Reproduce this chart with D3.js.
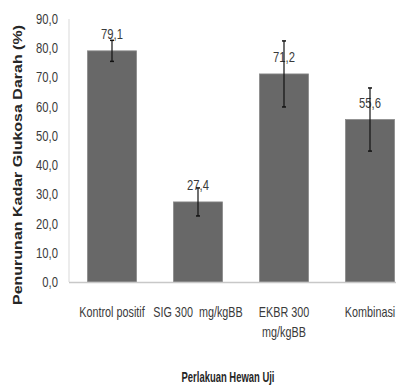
<!DOCTYPE html>
<html>
<head>
<meta charset="utf-8">
<script src="https://cdn.jsdelivr.net/npm/d3@7"></script>
<style>
  body { margin: 0; background: #fff; }
  text { font-family: "Liberation Sans", Arial, sans-serif; fill: #3a3a3a; white-space: pre; }
</style>
</head>
<body>
<div id="chart"></div>
<script>
// data
var categories = ["Kontrol positif", "SIG 300  mg/kgBB", "EKBR 300|mg/kgBB", "Kombinasi"];
var values = [79.1, 27.4, 71.2, 55.6];
var errors = [3.6, 4.8, 11.3, 10.8];
var valueLabels = ["79,1", "27,4", "71,2", "55,6"];
var yTicks = [0, 10, 20, 30, 40, 50, 60, 70, 80, 90];

var dimensions = {
    width: 396,
    height: 385,
    margin: { top: 19, left: 69, bottom: 103 }
}

var svg = d3.select("#chart")
    .append("svg")
    .attr("width", dimensions.width)
    .attr("height", dimensions.height)

var plotBottom = dimensions.height - dimensions.margin.bottom

// squeeze text horizontally, the source font is a narrow one
function condense(sel, k) {
    sel.each(function () {
        var w = this.getComputedTextLength()
        d3.select(this).attr("textLength", w * k).attr("lengthAdjust", "spacingAndGlyphs")
    })
}

// X scale, last bar runs off the right edge like the original
var x = d3.scaleBand()
    .domain(categories)
    .range([dimensions.margin.left, dimensions.margin.left + 344])
    .paddingInner(0.43)
    .paddingOuter(0.215)

var y = d3.scaleLinear()
    .domain([0, 90])
    .range([plotBottom, dimensions.margin.top])

// Y axis line
svg.append("line")
    .attr("x1", dimensions.margin.left).attr("x2", dimensions.margin.left)
    .attr("y1", y(90)).attr("y2", plotBottom)
    .attr("stroke", "#d9d9d9")

// Y tick labels
svg.append("g")
    .selectAll("text")
    .data(yTicks)
    .enter()
    .append("text")
    .attr("x", 58)
    .attr("y", function (d) { return y(d) + 5; })
    .attr("text-anchor", "end")
    .style("font-size", "15px")
    .text(function (d) { return d.toFixed(1).replace(".", ","); })
    .call(condense, 0.75)

// bars
svg.append("g")
    .selectAll("rect")
    .data(values)
    .enter()
    .append("rect")
    .attr("x", function (d, i) { return x(categories[i]); })
    .attr("y", function (d) { return y(d); })
    .attr("width", x.bandwidth())
    .attr("height", function (d) { return plotBottom - y(d); })
    .attr("fill", "#686868")
    .attr("stroke", "#8a8a8a")
    .attr("stroke-width", 0.8)

// X axis line
svg.append("line")
    .attr("x1", dimensions.margin.left).attr("x2", dimensions.width)
    .attr("y1", plotBottom + 0.5).attr("y2", plotBottom + 0.5)
    .attr("stroke", "#c8c8c8")
    .attr("stroke-width", 1.5)

// value labels
svg.append("g")
    .selectAll("text")
    .data(values)
    .enter()
    .append("text")
    .attr("x", function (d, i) { return x(categories[i]) + x.bandwidth() / 2; })
    .attr("y", function (d) { return y(d) - 12; })
    .attr("text-anchor", "middle")
    .style("font-size", "15px")
    .text(function (d, i) { return valueLabels[i]; })
    .call(condense, 0.75)

// error bars
var err = svg.append("g")
    .selectAll("g")
    .data(values)
    .enter()
    .append("g")
    .attr("transform", function (d, i) { return "translate(" + (x(categories[i]) + x.bandwidth() / 2) + ",0)"; })

err.append("line")
    .attr("y1", function (d, i) { return y(d + errors[i]); })
    .attr("y2", function (d, i) { return y(d - errors[i]); })
    .attr("stroke", "#111")
    .attr("stroke-width", 1.2)

err.append("line")
    .attr("x1", -2).attr("x2", 2)
    .attr("y1", function (d, i) { return y(d + errors[i]); })
    .attr("y2", function (d, i) { return y(d + errors[i]); })
    .attr("stroke", "#111")
    .attr("stroke-width", 1.5)

err.append("line")
    .attr("x1", -2).attr("x2", 2)
    .attr("y1", function (d, i) { return y(d - errors[i]); })
    .attr("y2", function (d, i) { return y(d - errors[i]); })
    .attr("stroke", "#111")
    .attr("stroke-width", 1.5)

// category labels, "|" marks a line break
var cat = svg.append("g")
    .selectAll("text")
    .data(categories)
    .enter()
    .append("text")
    .attr("x", function (d) { return x(d) + x.bandwidth() / 2; })
    .attr("y", plotBottom + 35)
    .attr("text-anchor", "middle")
    .style("font-size", "15px")

cat.each(function (d) {
    var parts = d.split("|")
    var t = d3.select(this)
    parts.forEach(function (p, j) {
        t.append("tspan")
            .attr("x", x(d) + x.bandwidth() / 2)
            .attr("dy", j == 0 ? 0 : 20)
            .text(p)
    })
})
cat.selectAll("tspan").call(condense, 0.72)

// axis titles
svg.append("text")
    .attr("x", 228)
    .attr("y", 382)
    .attr("text-anchor", "middle")
    .style("font-size", "15px")
    .style("font-weight", "bold")
    .style("fill", "#262626")
    .text("Perlakuan Hewan Uji")
    .call(condense, 0.63)

svg.append("text")
    .attr("transform", "translate(22," + 165 + ") rotate(-90)")
    .attr("text-anchor", "middle")
    .style("font-size", "12px")
    .style("font-weight", "bold")
    .style("fill", "#262626")
    .attr("textLength", 280)
    .attr("lengthAdjust", "spacingAndGlyphs")
    .text("Penurunan Kadar Glukosa Darah (%)")
</script>
</body>
</html>
